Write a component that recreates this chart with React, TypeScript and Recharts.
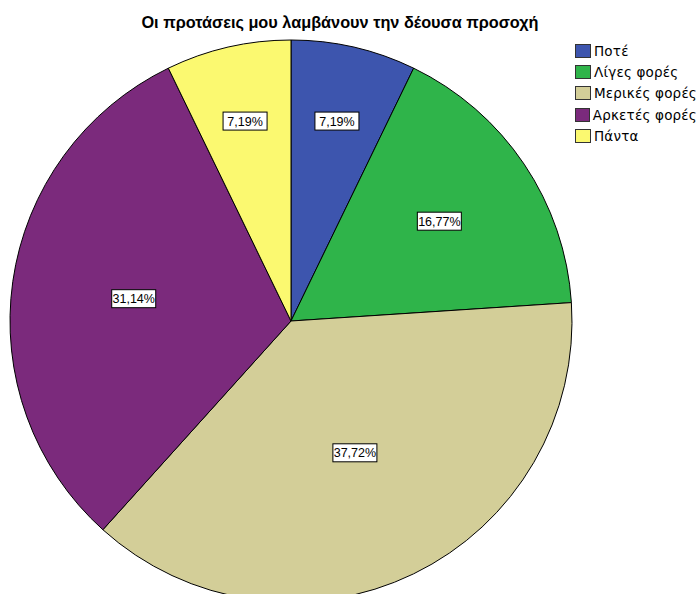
import React from 'react';
import { PieChart, Pie, Cell, Legend } from 'recharts';

const categories = ['Ποτέ', 'Λίγες φορές', 'Μερικές φορές', 'Αρκετές φορές', 'Πάντα'];
const percents = [7.19, 16.77, 37.72, 31.14, 7.19];
const colors = ['#3d55ae', '#2fb44a', '#d3ce98', '#7b2a7c', '#fbf970'];

const title = 'Οι προτάσεις μου λαμβάνουν την δέουσα προσοχή';

const data = categories.map((name, i) => ({ name, value: percents[i] }));

const RAD = Math.PI / 180;
const FONT = 'Arial, "Liberation Sans", sans-serif';

// label placed at the slice centroid; thin slices get theirs pushed outward
function renderLabel(props: any) {
  const { cx, cy, midAngle, outerRadius, percent, value } = props;
  const half = percent * Math.PI;
  const centroid = (2 * outerRadius * Math.sin(half)) / (3 * half);
  const r = percent < 0.1 ? Math.max(centroid, outerRadius * 0.73) : centroid;
  const x = cx + r * Math.cos(-midAngle * RAD);
  const y = cy + r * Math.sin(-midAngle * RAD);
  const text = value.toFixed(2).replace('.', ',') + '%';
  const w = 44;
  const h = 18;
  return (
    <g>
      <rect x={x - w / 2} y={y - h / 2} width={w} height={h} fill="#fff" stroke="#000" strokeWidth={1} />
      <text x={x} y={y + 4.5} textAnchor="middle" fontSize={12.5} fontFamily={FONT} fill="#000">
        {text}
      </text>
    </g>
  );
}

function LegendBox() {
  return (
    <div style={{ fontFamily: '"DejaVu Sans", sans-serif', fontSize: 13.5, letterSpacing: 0.2, color: '#000' }}>
      {categories.map((c, i) => (
        <div key={c} style={{ display: 'flex', alignItems: 'center', height: 21.3, whiteSpace: 'nowrap' }}>
          <span
            style={{
              display: 'inline-block',
              width: 16,
              height: 14,
              background: colors[i],
              border: '1px solid #333',
              boxSizing: 'border-box',
              marginRight: 3,
            }}
          />
          {c}
        </div>
      ))}
    </div>
  );
}

export default function App() {
  return (
    <div style={{ position: 'absolute', left: 0, top: 0, width: 697, height: 594, background: '#fff', overflow: 'hidden' }}>
      <PieChart width={697} height={594} margin={{ top: 0, right: 0, bottom: 0, left: 0 }}>
        <text x={340} y={28} textAnchor="middle" fontSize={16.3} fontWeight="bold" fontFamily={FONT} fill="#000">
          {title}
        </text>
        <Legend
          content={() => <LegendBox />}
          layout="vertical"
          verticalAlign="top"
          align="right"
          wrapperStyle={{ position: 'absolute', left: 575, top: 40, width: 122 }}
        />
        <Pie
          data={data}
          dataKey="value"
          nameKey="name"
          cx={291}
          cy={321}
          outerRadius={281}
          startAngle={90}
          endAngle={-270}
          stroke="#000"
          strokeWidth={1}
          label={renderLabel}
          labelLine={false}
          isAnimationActive={false}
        >
          {data.map((d, i) => (
            <Cell key={d.name} fill={colors[i]} />
          ))}
        </Pie>
      </PieChart>
    </div>
  );
}
